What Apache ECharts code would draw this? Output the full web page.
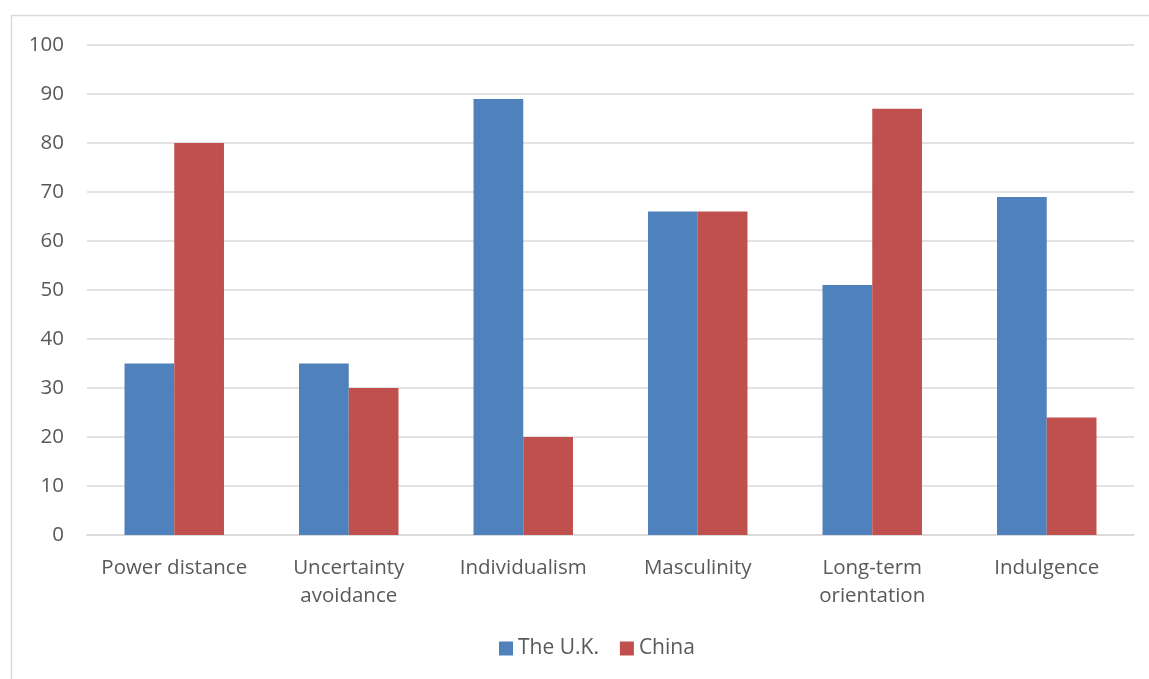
<!DOCTYPE html>
<html><head><meta charset="utf-8">
<script src="https://cdn.jsdelivr.net/npm/echarts@6/dist/echarts.min.js"></script>
<style>html,body{margin:0;padding:0;background:#fff;}#c{width:1149px;height:679px;}</style>
</head><body><div id="c"></div>
<script>
const categories = ['Power distance', 'Uncertainty\navoidance', 'Individualism', 'Masculinity', 'Long-term\norientation', 'Indulgence'];
const ukValues = [35, 35, 89, 66, 51, 69];
const chinaValues = [80, 30, 20, 66, 87, 24];
const yTicks = {min: 0, max: 100, interval: 10};
const font = '"Open Sans", "Noto Sans", sans-serif';
const chart = echarts.init(document.getElementById('c'));
chart.setOption({
  animation: false,
  graphic: [{type: 'rect', shape: {x: 11.5, y: 15.5, width: 1200, height: 700}, style: {fill: 'none', stroke: '#d9d9d9', lineWidth: 1.5}, silent: true}],
  grid: {left: 87, right: 15, top: 45, bottom: 144, containLabel: false},
  legend: {bottom: 15, left: 494, itemWidth: 14, itemHeight: 14, itemGap: 21, icon: 'rect',
    textStyle: {color: '#595959', fontSize: 21, fontFamily: font, padding: [0, 0, 0, 0]}},
  xAxis: {type: 'category', data: categories,
    axisLine: {lineStyle: {color: '#d9d9d9', width: 1.5}}, axisTick: {show: false},
    axisLabel: {color: '#595959', fontSize: 20.5, fontFamily: font, margin: 19, lineHeight: 28, interval: 0}},
  yAxis: {type: 'value', min: yTicks.min, max: yTicks.max, interval: yTicks.interval,
    axisLine: {show: false}, axisTick: {show: false},
    splitLine: {lineStyle: {color: '#d9d9d9', width: 1.5}},
    axisLabel: {color: '#595959', fontSize: 20.5, fontFamily: font, margin: 23}},
  series: [
    {name: 'The U.K.', type: 'bar', data: ukValues, barGap: '0%', barCategoryGap: '43%', itemStyle: {color: '#4F81BD'}},
    {name: 'China', type: 'bar', data: chinaValues, itemStyle: {color: '#C0504D'}}
  ]
});
</script></body></html>
